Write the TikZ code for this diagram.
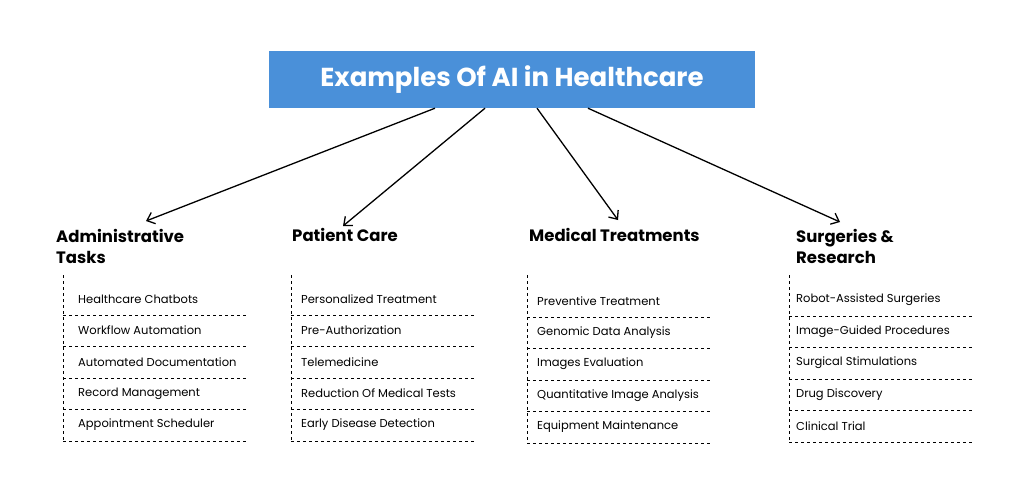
\documentclass[tikz,border=0pt]{standalone}
\usepackage{fontspec}
\setmainfont{Poppins}
\begin{document}
\begin{tikzpicture}[x=1pt,y=-1pt,
 head/.style={anchor=west,font=\fontsize{16.5}{21}\selectfont\bfseries,align=left,inner sep=0},
 item/.style={anchor=west,font=\fontsize{11.5}{13}\selectfont,inner sep=0},
 dl/.style={dashed,dash pattern=on 3pt off 3pt,line width=0.7pt},
 arr/.style={-{Straight Barb[length=7pt,width=12pt]},line width=1.3pt}]
\usetikzlibrary{arrows.meta}
\useasboundingbox (0,0) rectangle (1024,501);
\fill[white] (0,0) rectangle (1024,501);
\node[fill={rgb,255:red,74;green,144;blue,217},minimum width=486pt,minimum height=57pt,text=white,font=\fontsize{26}{30}\selectfont\bfseries] (title) at (512,79.5) {Examples Of AI in Healthcare};
\coordinate (a1) at (146,221); \coordinate (a2) at (343,226);
\coordinate (a3) at (618,220); \coordinate (a4) at (840,222);
\draw[arr] (title.south-|435,0) -- (a1);
\draw[arr] (title.south-|485,0) -- (a2);
\draw[arr] (title.south-|537,0) -- (a3);
\draw[arr] (title.south-|588,0) -- (a4);
% columns
\def\col#1#2#3#4#5#6#7#8#9{}
% col1
\node[head] (h1) at (56,246) {Administrative\\Tasks};
\draw[dl] (63,275) -- (63,442);
\foreach \t [count=\i] in {Healthcare Chatbots,Workflow Automation,Automated Documentation,Record Management,Appointment Scheduler}{
 \node[item] (c1\i) at (78,299+31.5*\i-31.5) {\t};
 \draw[dl] (63,315+31.5*\i-31.5) -- (248,315+31.5*\i-31.5);}
% col2
\node[head] (h2) at (292,235) {Patient Care};
\draw[dl] (291,275) -- (291,442);
\foreach \t [count=\i] in {Personalized Treatment,Pre-Authorization,Telemedicine,Reduction Of Medical Tests,Early Disease Detection}{
 \node[item] (c2\i) at (301,299+31.5*\i-31.5) {\t};
 \draw[dl] (291,315+31.5*\i-31.5) -- (476,315+31.5*\i-31.5);}
% col3
\node[head] (h3) at (529,235) {Medical Treatments};
\draw[dl] (527,275) -- (527,443);
\foreach \t [count=\i] in {Preventive Treatment,Genomic Data Analysis,Images Evaluation,Quantitative Image Analysis,Equipment Maintenance}{
 \node[item] (c3\i) at (537,301+31.5*\i-31.5) {\t};
 \draw[dl] (527,317+31.5*\i-31.5) -- (712,317+31.5*\i-31.5);}
% col4
\node[head] (h4) at (796,246) {Surgeries \&\\Research};
\draw[dl] (789,275) -- (789,442);
\foreach \t [count=\i] in {Robot-Assisted Surgeries,Image-Guided Procedures,Surgical Stimulations,Drug Discovery,Clinical Trial}{
 \node[item] (c4\i) at (796,300+31.5*\i-31.5) {\t};
 \draw[dl] (789,316+31.5*\i-31.5) -- (973,316+31.5*\i-31.5);}
\end{tikzpicture}
\end{document}
